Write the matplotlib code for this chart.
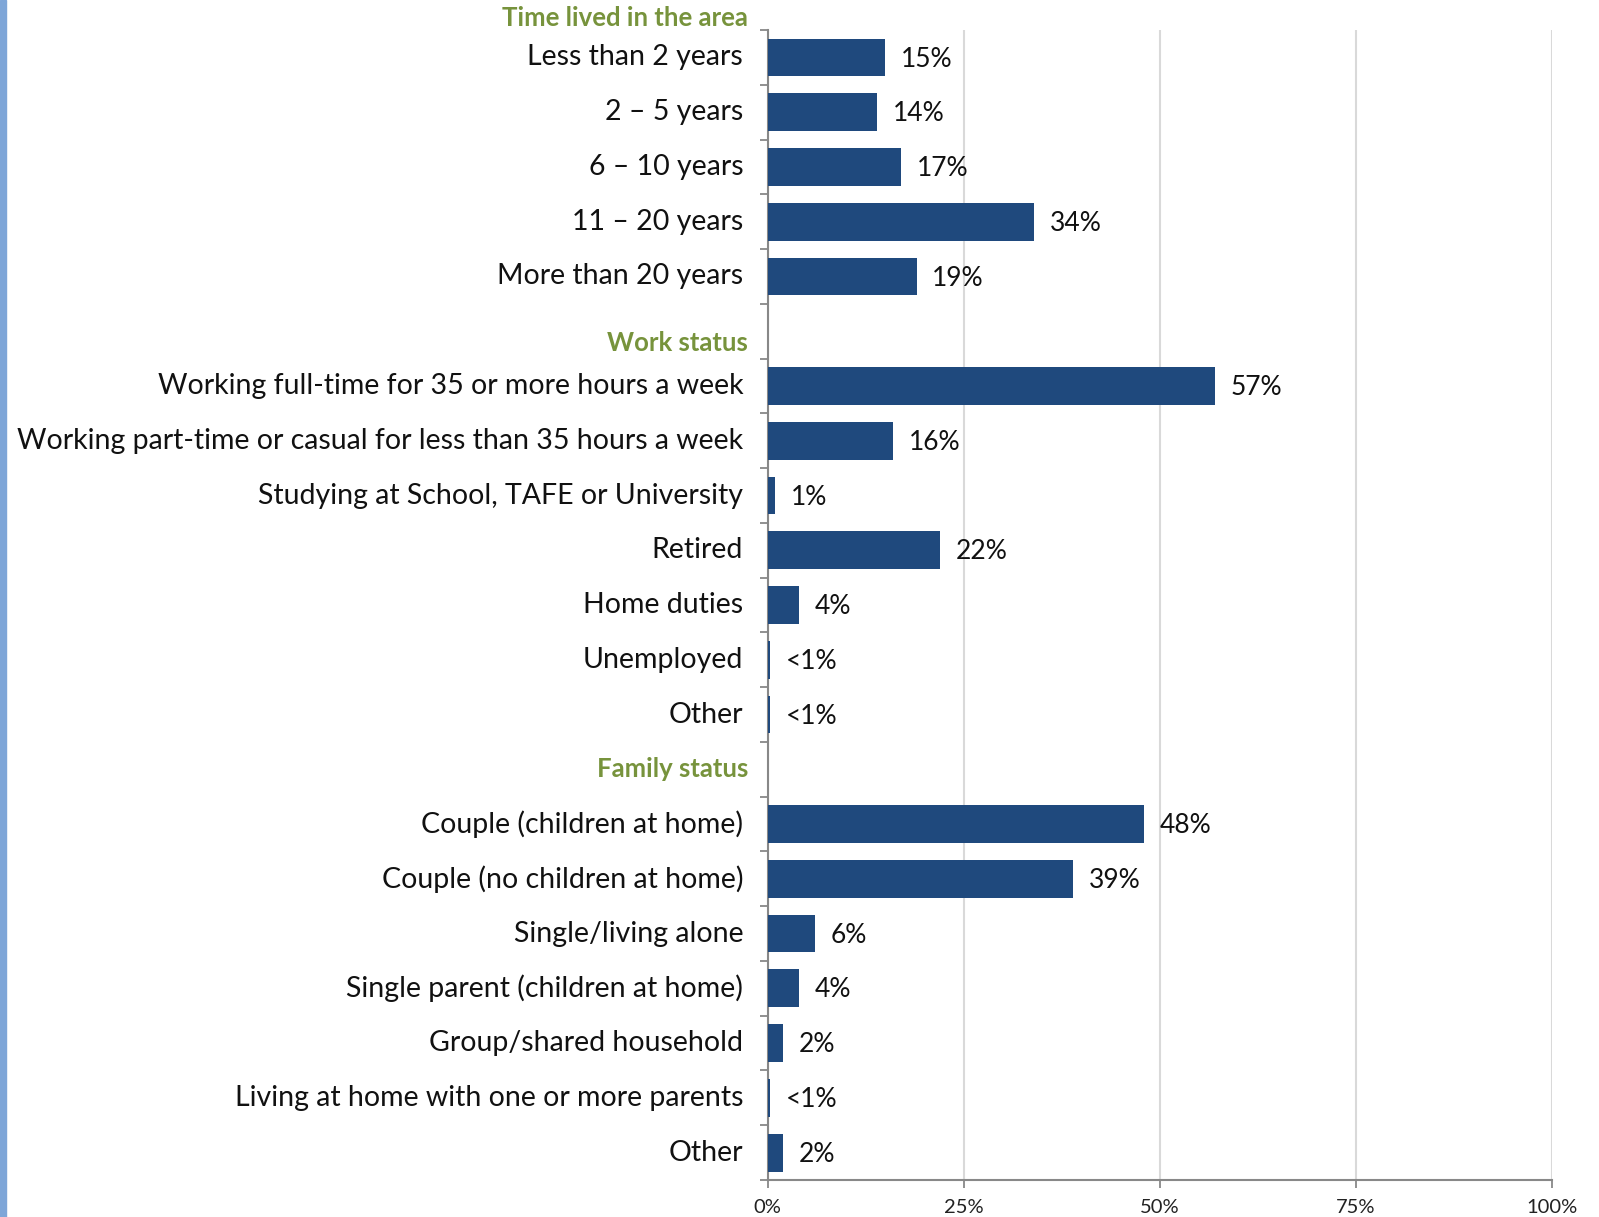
import matplotlib
matplotlib.use("Agg")
import matplotlib.pyplot as plt
from matplotlib.patches import Rectangle

# Survey categories (top to bottom); None marks a section header row
time_labels = ["Less than 2 years", "2 \u2013 5 years", "6 \u2013 10 years",
               "11 \u2013 20 years", "More than 20 years"]
time_values = [15, 14, 17, 34, 19]

work_labels = ["Working full-time for 35 or more hours a week",
               "Working part-time or casual for less than 35 hours a week",
               "Studying at School, TAFE or University", "Retired",
               "Home duties", "Unemployed", "Other"]
work_values = [57, 16, 1, 22, 4, 0.3, 0.3]

family_labels = ["Couple (children at home)", "Couple (no children at home)",
                 "Single/living alone", "Single parent (children at home)",
                 "Group/shared household",
                 "Living at home with one or more parents", "Other"]
family_values = [48, 39, 6, 4, 2, 0.3, 2]

section_titles = ["Time lived in the area", "Work status", "Family status"]
x_ticks = [0, 25, 50, 75, 100]

BAR = "#1F497D"
GREEN = "#77933C"
FONT = "Lato"

rows = []  # (label, value, header offset or None)
rows += [(l, v, None) for l, v in zip(time_labels, time_values)]
rows.append((section_titles[1], None, 0.22))
rows += [(l, v, None) for l, v in zip(work_labels, work_values)]
rows.append((section_titles[2], None, 0.0))
rows += [(l, v, None) for l, v in zip(family_labels, family_values)]

n = len(rows)
fig = plt.figure(figsize=(15.99, 12.17), dpi=100)
ax = fig.add_axes([0.480, 0.0304, 0.4906, 0.9449])

# pale blue strip down the left edge
fig.patches.append(Rectangle((0, 0), 0.0038, 1, transform=fig.transFigure,
                             color="#7EA6D8", zorder=0))

for y, (lab, val, hoff) in enumerate(rows):
    if hoff is not None:
        ax.text(-0.025, y + hoff, lab, transform=ax.get_yaxis_transform(),
                ha="right", va="center", fontsize=18.5, fontweight="bold",
                color=GREEN, family=FONT)
        continue
    ax.barh(y, val, height=0.69, color=BAR, zorder=3)
    txt = f"{val:.0f}%" if val >= 1 else "<1%"
    ax.text(val + 2.0, y + 0.03, txt, ha="left", va="center", fontsize=19,
            color="#111111", family=FONT)
    ax.text(-0.031, y, lab, transform=ax.get_yaxis_transform(),
            ha="right", va="center", fontsize=20.5, color="#111111",
            family=FONT)

# first section title sits above the plotting area
ax.text(-0.025, -0.72, section_titles[0], transform=ax.get_yaxis_transform(),
        ha="right", va="center", fontsize=18.5, fontweight="bold",
        color=GREEN, family=FONT)

ax.set_xlim(0, 100)
ax.set_ylim(n - 0.5, -0.5)
ax.set_xticks(x_ticks)
ax.set_xticklabels([f"{t}%" for t in x_ticks], fontsize=14.5, family=FONT,
                   color="#222222")
ax.set_yticks([i - 0.5 for i in range(n + 1)])
ax.set_yticklabels([])
ax.tick_params(axis="y", length=6, color="#888888", width=1.3)
ax.tick_params(axis="x", length=6, color="#888888", width=1.3, pad=8)

ax.grid(axis="x", color="#D9D9D9", linewidth=1.5, zorder=0)
ax.set_axisbelow(True)
for s in ["top", "right"]:
    ax.spines[s].set_visible(False)
for s in ["left", "bottom"]:
    ax.spines[s].set_color("#888888")
    ax.spines[s].set_linewidth(1.5)

fig.savefig("out.png", dpi=100)
